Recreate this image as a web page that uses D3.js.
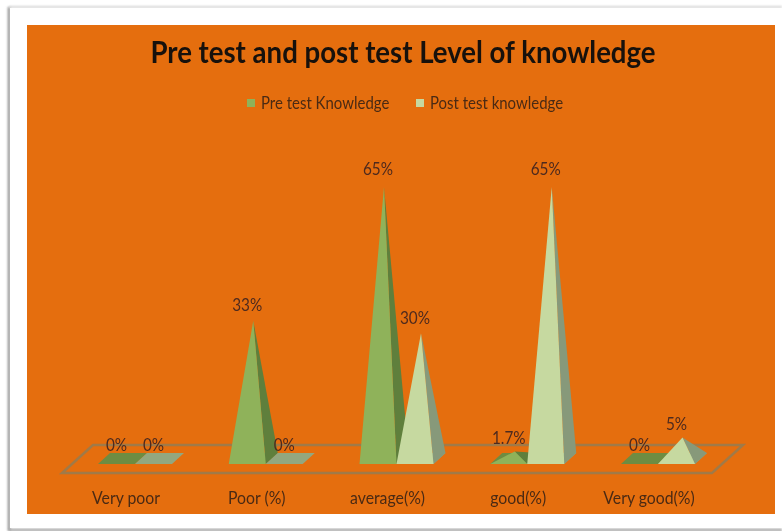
<!DOCTYPE html>
<html>
<head>
<meta charset="utf-8">
<script src="https://cdn.jsdelivr.net/npm/d3@7"></script>
<style>
  html, body { margin: 0; padding: 0; background: #fff; overflow: hidden; }
  text { font-family: Lato, "Open Sans", sans-serif; }
  svg { display: block; filter: blur(0.55px); }
</style>
</head>
<body>
<div id="chart"></div>
<script>
var categories = ["Very poor", "Poor (%)", "average(%)", "good(%)", "Very good(%)"];
var seriesNames = ["Pre test Knowledge", "Post test knowledge"];
var preValues = [0, 33, 65, 1.7, 0];
var postValues = [0, 0, 30, 65, 5];
var preLabels = ["0%", "33%", "65%", "1.7%", "0%"];
var postLabels = ["0%", "0%", "30%", "65%", "5%"];

var width = 782, height = 531;
var depthX = 12, depthY = 11;   // how far the pyramid base runs back
var baseY = 464;

var colors = [
  {front: "#8fb25a", side: "#5f7f3c", base: "#6e8c42"},
  {front: "#c6d9a0", side: "#87997a", base: "#93a77f"}
];

var x0 = d3.scaleBand().domain(categories).range([98, 695]).paddingInner(0.434).paddingOuter(0);
var x1 = d3.scaleBand().domain([0, 1]).range([0, x0.bandwidth()]);
var y = d3.scaleLinear().domain([0, 65]).range([baseY - depthY / 2, 187]);
// the labels sit a bit further off the tall spikes
var labelGap = d3.scaleLinear().domain([0, 65]).range([7.5, 12]);

var svg = d3.select("#chart").append("svg")
    .attr("width", width)
    .attr("height", height);

// Lato is wider than the original face, so squeeze it to the measured share
function condense(sel, factor) {
  sel.each(function() {
    var w = this.getComputedTextLength();
    d3.select(this).attr("textLength", w * factor).attr("lengthAdjust", "spacingAndGlyphs");
  });
}

// page frame, shadow on the left and at the bottom
var defs = svg.append("defs");
defs.append("filter").attr("id", "soft")
    .attr("filterUnits", "userSpaceOnUse")
    .attr("x", 0).attr("y", 0).attr("width", width).attr("height", height)
    .append("feGaussianBlur").attr("stdDeviation", 1.2);
svg.append("path")
    .attr("d", "M9,531V7")
    .attr("fill", "none").attr("stroke", "#8f8f8f").attr("stroke-width", 2.5)
    .attr("filter", "url(#soft)");
svg.append("path")
    .attr("d", "M9,7H782")
    .attr("fill", "none").attr("stroke", "#d4d4d4").attr("stroke-width", 2)
    .attr("filter", "url(#soft)");
svg.append("path")
    .attr("d", "M9,530H782")
    .attr("fill", "none").attr("stroke", "#a0a0a0").attr("stroke-width", 2.5)
    .attr("filter", "url(#soft)");
svg.append("rect").attr("x", 10).attr("y", 8).attr("width", 772).attr("height", 520).attr("fill", "#fff");
svg.append("rect").attr("x", 27).attr("y", 25).attr("width", 748).attr("height", 489).attr("fill", "#e56e0e");

svg.append("text")
    .attr("x", 403).attr("y", 63)
    .attr("text-anchor", "middle")
    .attr("font-size", 30)
    .attr("font-weight", 700)
    .attr("fill", "#17110c")
    .text("Pre test and post test Level of knowledge")
    .call(condense, 0.92);

// legend
var legendX = [247, 416];
var legend = svg.selectAll(".legend").data(seriesNames).enter().append("g")
    .attr("class", "legend")
    .attr("transform", function(d, i) { return "translate(" + legendX[i] + ",99)"; });
legend.append("rect").attr("width", 8).attr("height", 8)
    .attr("fill", function(d, i) { return colors[i].front; });
legend.append("text").attr("x", 14).attr("y", 10)
    .attr("font-size", 17)
    .attr("fill", "#4a2a14")
    .text(function(d) { return d; })
    .call(condense, 0.88);

// floor
svg.append("path")
    .attr("d", "M62,473H712L743,445H93Z")
    .attr("fill", "none")
    .attr("stroke", "#a07a48")
    .attr("stroke-width", 2.5);

var rows = [];
categories.forEach(function(c, i) {
  rows.push({cat: c, s: 0, value: preValues[i], label: preLabels[i]});
  rows.push({cat: c, s: 1, value: postValues[i], label: postLabels[i]});
});

var pyramids = svg.selectAll(".pyramid").data(rows).enter().append("g").attr("class", "pyramid");

function pts(list) {
  return list.map(function(p) { return p.join(","); }).join(" ");
}
function corners(d) {
  var l = x0(d.cat) + x1(d.s), r = l + x1.bandwidth();
  return {
    fl: [l, baseY], fr: [r, baseY],
    br: [r + depthX, baseY - depthY], bl: [l + depthX, baseY - depthY],
    top: [(l + r) / 2 + depthX / 2, y(d.value)]
  };
}

pyramids.append("polygon")
    .attr("points", function(d) { var c = corners(d); return pts([c.fl, c.fr, c.br, c.bl]); })
    .attr("fill", function(d) { return colors[d.s].base; });
pyramids.filter(function(d) { return d.value > 0; }).append("polygon")
    .attr("points", function(d) { var c = corners(d); return pts([c.fr, c.br, c.top]); })
    .attr("fill", function(d) { return colors[d.s].side; });
pyramids.filter(function(d) { return d.value > 0; }).append("polygon")
    .attr("points", function(d) { var c = corners(d); return pts([c.fl, c.fr, c.top]); })
    .attr("fill", function(d) { return colors[d.s].front; });

svg.selectAll(".value").data(rows).enter().append("text")
    .attr("class", "value")
    .attr("x", function(d) { return x0(d.cat) + x1(d.s) + x1.bandwidth() / 2; })
    .attr("y", function(d) { return y(d.value) - labelGap(d.value); })
    .attr("text-anchor", "middle")
    .attr("font-size", 17)
    .attr("fill", "#4e2a1e")
    .text(function(d) { return d.label; })
    .call(condense, 0.9);

var xAxis = d3.axisBottom(x0).tickSize(0);
var gx = svg.append("g")
    .attr("transform", "translate(-9,489)")
    .call(xAxis);
gx.select(".domain").remove();
gx.selectAll("text")
    .attr("font-family", "Lato, sans-serif")
    .attr("font-size", 17)
    .attr("fill", "#4a2a14")
    .call(condense, 0.93);
</script>
</body>
</html>
